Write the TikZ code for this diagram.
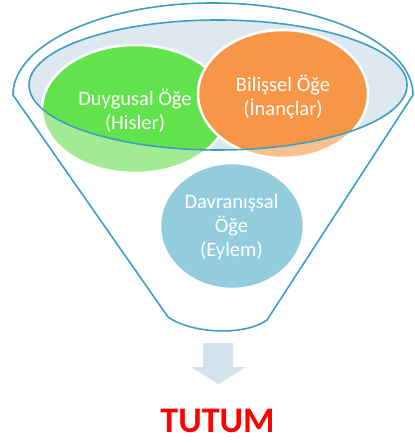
\documentclass[tikz,border=0pt]{standalone}
\usepackage{fontspec}
\setmainfont{Carlito}
\definecolor{funnelline}{HTML}{3E9FC2}
\definecolor{glassfill}{HTML}{DEE8F0}
\definecolor{greenfull}{HTML}{62E24C}
\definecolor{greenlight}{HTML}{A3EB92}
\definecolor{orangefull}{HTML}{F79646}
\definecolor{orangelight}{HTML}{FAC08F}
\definecolor{bluecirc}{HTML}{93CDDD}
\definecolor{arrowfill}{HTML}{D2E3EC}
\definecolor{tutumred}{HTML}{FF0000}
\tikzset{
  circ/.style={draw=white, line width=2.5pt},
  funnelstroke/.style={draw=funnelline, line width=1.6pt, line join=round},
  circtext/.style={text=white, align=center, font=\fontsize{20.5}{24}\selectfont, inner sep=0pt},
}
\begin{document}
\begin{tikzpicture}[x=1pt,y=-1pt]
\useasboundingbox (0,0) rectangle (414,443);
% glass (inner ellipse) fill
\fill[glassfill] (218,85) ellipse [x radius=189pt, y radius=65pt];
% light (outside glass) circles
\path[circ, fill=greenlight] (135,109) ellipse [x radius=93pt, y radius=64pt];
\path[circ, fill=orangelight] (283,94) ellipse [x radius=85pt, y radius=64pt];
% full colours inside glass
\begin{scope}
  \clip (218,85) ellipse [x radius=189pt, y radius=65pt];
  \path[circ, fill=greenfull] (135,109) ellipse [x radius=93pt, y radius=64pt];
  \path[circ, fill=orangefull] (283,94) ellipse [x radius=85pt, y radius=64pt];
\end{scope}
% behaviour circle
\path[circ, fill=bluecirc] (232,226) ellipse [x radius=72pt, y radius=63pt];
% inner ellipse stroke
\draw[funnelstroke] (218,85) ellipse [x radius=189pt, y radius=65pt];
% funnel outline
\coordinate (tl) at (13,95);
\coordinate (tr) at (413,95);
\coordinate (bl) at (168,317);
\coordinate (br) at (267,320);
\draw[funnelstroke] (bl) -- (tl) arc[start angle=180, end angle=0, x radius=200pt, y radius=92pt] -- (br)
  .. controls (245,336) and (192,334) .. (bl);
% arrow
\fill[arrowfill] (203,343) -- (233,343) -- (233,367) -- (246,367) -- (218.5,384) -- (191,367) -- (203,367) -- cycle;
% texts
\node[circtext] (duygu) at (135,111) {Duygusal Öğe\\(Hisler)};
\node[circtext] (bilis) at (283,97) {Bilişsel Öğe\\(İnançlar)};
\node[circtext] (davran) at (231.5,227) {Davranışsal\\Öğe\\(Eylem)};
\node[text=tutumred, font=\fontsize{36}{40}\selectfont\bfseries, anchor=base, inner sep=0pt] (tutum) at (217.5,432) {TUTUM};
\end{tikzpicture}
\end{document}
